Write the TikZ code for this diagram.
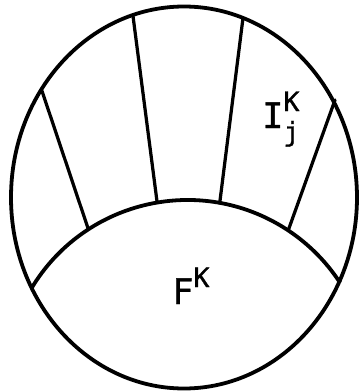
\documentclass[tikz,border=0pt]{standalone}
\usepackage{fontspec}
\usepackage{amsmath}
\newfontfamily\lettering[FakeBold=1]{DejaVu Sans Mono}

\begin{document}
\begin{tikzpicture}[x=0.25mm, y=-0.25mm,
  rim/.style={line width=2.7pt},
  wall/.style={line width=2.3pt, line cap=round},
  lbl/.style={font=\lettering\fontsize{25}{30}\selectfont, inner sep=0pt}]
  \useasboundingbox (0,0) rectangle (359,392);
  % outer boundary
  \draw[rim] (184,197.5) ellipse [x radius=173, y radius=191];
  % boundary of the face F^K
  \coordinate (fc) at (187.5,382);
  \draw[rim] ([shift={(211:182)}]fc) arc [start angle=211, end angle=327, radius=182];
  % walls between the pieces I_j^K
  \coordinate (in1) at ([shift={(237:182)}]fc);
  \coordinate (in2) at ([shift={(260.4:182)}]fc);
  \coordinate (in3) at ([shift={(280.2:182)}]fc);
  \coordinate (in4) at ([shift={(303.6:182)}]fc);
  \coordinate (out1) at (42,91);
  \coordinate (out2) at (133,16);
  \coordinate (out3) at (243,18);
  \coordinate (out4) at (335,100);
  \draw[wall] (in1) -- (out1);
  \draw[wall] (in2) -- (out2);
  \draw[wall] (in3) -- (out3);
  \draw[wall] (in4) -- (out4);
  % labels
  \node[lbl, anchor=base west] (face) at (172,304)
    {F$^{\raisebox{3pt}{\fontsize{19}{20}\selectfont K}}$};
  \node[lbl, anchor=base west] (piece) at (262,128)
    {I$_{\text{\fontsize{19}{20}\selectfont j}}^{\raisebox{3pt}{\fontsize{19}{20}\selectfont K}}$};
\end{tikzpicture}
\end{document}
